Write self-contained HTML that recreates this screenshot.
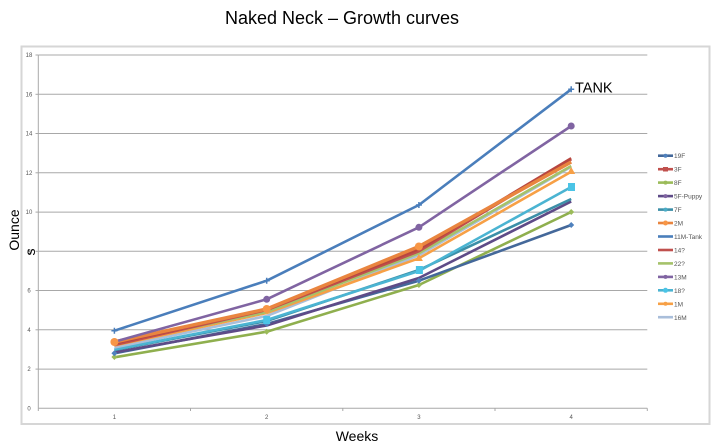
<!DOCTYPE html>
<html><head><meta charset="utf-8"><style>
html,body{margin:0;padding:0;background:#fff;}
svg{display:block;}
</style></head><body>
<svg width="711" height="446" viewBox="0 0 711 446" xmlns="http://www.w3.org/2000/svg" font-family="Liberation Sans, Arial, sans-serif">
<rect x="0" y="0" width="711" height="446" fill="#fff"/>
<text x="342" y="24" font-size="18" text-anchor="middle" fill="#000">Naked Neck – Growth curves</text>
<rect x="21.5" y="46.5" width="688" height="377.5" fill="#fff" stroke="#d6d6d6" stroke-width="2"/>
<!-- gridlines -->
<g stroke="#a8a8a8" stroke-width="1">
<line x1="38.3" y1="55" x2="647.3" y2="55"/>
<line x1="38.3" y1="94.3" x2="647.3" y2="94.3"/>
<line x1="38.3" y1="133.5" x2="647.3" y2="133.5"/>
<line x1="38.3" y1="172.8" x2="647.3" y2="172.8"/>
<line x1="38.3" y1="212.1" x2="647.3" y2="212.1"/>
<line x1="38.3" y1="251.3" x2="647.3" y2="251.3"/>
<line x1="38.3" y1="290.5" x2="647.3" y2="290.5"/>
<line x1="38.3" y1="329.8" x2="647.3" y2="329.8"/>
<line x1="38.3" y1="369.1" x2="647.3" y2="369.1"/>
<line x1="38.3" y1="408.3" x2="647.3" y2="408.3"/>
<line x1="38.3" y1="55" x2="38.3" y2="408.3"/>
<line x1="38.3" y1="408.3" x2="38.3" y2="411"/>
<line x1="190.5" y1="408.3" x2="190.5" y2="411"/>
<line x1="342.8" y1="408.3" x2="342.8" y2="411"/>
<line x1="495" y1="408.3" x2="495" y2="411"/>
<line x1="647.3" y1="408.3" x2="647.3" y2="411"/>
<line x1="35.5" y1="55" x2="38.3" y2="55"/>
<line x1="35.5" y1="94.3" x2="38.3" y2="94.3"/>
<line x1="35.5" y1="133.5" x2="38.3" y2="133.5"/>
<line x1="35.5" y1="172.8" x2="38.3" y2="172.8"/>
<line x1="35.5" y1="212.1" x2="38.3" y2="212.1"/>
<line x1="35.5" y1="251.3" x2="38.3" y2="251.3"/>
<line x1="35.5" y1="290.5" x2="38.3" y2="290.5"/>
<line x1="35.5" y1="329.8" x2="38.3" y2="329.8"/>
<line x1="35.5" y1="369.1" x2="38.3" y2="369.1"/>
</g>
<g font-size="6" fill="#555" text-anchor="middle">
<text x="29" y="57">18</text>
<text x="29" y="96.3">16</text>
<text x="29" y="135.5">14</text>
<text x="29" y="174.8">12</text>
<text x="29" y="214.1">10</text>
<text x="29" y="253.3">8</text>
<text x="29" y="292.5">6</text>
<text x="29" y="331.8">4</text>
<text x="29" y="371.1">2</text>
<text x="29" y="410.3">0</text>
<text x="114.4" y="419">1</text>
<text x="266.7" y="419">2</text>
<text x="418.9" y="419">3</text>
<text x="571.2" y="419">4</text>
</g>
<text transform="translate(19,230) rotate(-90)" font-size="14" text-anchor="middle" fill="#000">Ounce</text>
<text transform="translate(35,252) rotate(-90)" font-size="14" text-anchor="middle" fill="#000">s</text>
<text x="357" y="441" font-size="14" text-anchor="middle" fill="#000">Weeks</text>
<!-- series: x = 114.4, 266.7, 418.9, 571.2 ; y = 408.3 - 19.63v -->
<g fill="none" stroke-width="2.6" stroke-linejoin="round">
<!-- 8F green -->
<polyline stroke="#8FAF4E" points="114.4,357.3 266.7,331.7 418.9,285 571.2,212"/>
<!-- 19F blue -->
<polyline stroke="#44689A" points="114.4,353.3 266.7,324 418.9,280.7 571.2,225"/>
<!-- 5F-Puppy purple -->
<polyline stroke="#5E4B87" points="114.4,352.3 266.7,325.5 418.9,278 571.2,201.5"/>
<!-- 7F aqua -->
<polyline stroke="#3C8FA8" points="114.4,350 266.7,321 418.9,270 571.2,199"/>
<!-- 18? aqua -->
<polyline stroke="#4BB4D2" points="114.4,349.5 266.7,320 418.9,271 571.2,187"/>
<!-- 16M lightblue -->
<polyline stroke="#A9BEDA" points="114.4,347.5 266.7,316 418.9,255.2 571.2,166.8"/>
<!-- 1M orange -->
<polyline stroke="#F7A046" points="114.4,345.5 266.7,313 418.9,258.3 571.2,171.7"/>
<!-- 22? green -->
<polyline stroke="#A5C26A" points="114.4,343.5 266.7,312 418.9,253.2 571.2,166"/>
<!-- 14? red -->
<polyline stroke="#C0504D" points="114.4,345 266.7,310 418.9,251.3 571.2,159.5"/>
<!-- 3F red -->
<polyline stroke="#B8463F" points="114.4,343.5 266.7,309 418.9,249.3 571.2,158.3"/>
<!-- 2M orange -->
<polyline stroke="#E9853F" stroke-width="3.5" points="114.4,342 266.7,309 418.9,246.5 571.2,162"/>
<!-- 13M purple -->
<polyline stroke="#8064A2" points="114.4,341.7 266.7,299.3 418.9,227.3 571.2,126"/>
<!-- 11M-Tank blue -->
<polyline stroke="#4A7EBB" points="114.4,330.7 266.7,280.7 418.9,205 571.2,89.3"/>
</g>
<!-- markers -->
<g>
<path d="M114.4,354 l3,3 l-3,3 l-3,-3z M266.7,328.7 l3,3 l-3,3 l-3,-3z M418.9,282 l3,3 l-3,3 l-3,-3z M571.2,209 l3,3 l-3,3 l-3,-3z" fill="#9BBB59"/>
<path d="M114.4,350.3 l3,3 l-3,3 l-3,-3z M266.7,321 l3,3 l-3,3 l-3,-3z M418.9,277.7 l3,3 l-3,3 l-3,-3z M571.2,222 l3,3 l-3,3 l-3,-3z" fill="#4F81BD"/>
<rect x="415.9" y="266" width="7" height="8" fill="#4BC4E6"/>
<rect x="568" y="183" width="7" height="8" fill="#4BC4E6"/>
<rect x="263.2" y="316" width="7" height="8" fill="#4BC4E6"/>
<circle cx="266.7" cy="299.3" r="3.5" fill="#8064A2"/>
<circle cx="418.9" cy="227.3" r="3.5" fill="#8064A2"/>
<circle cx="571.2" cy="126" r="3.5" fill="#8064A2"/>
<circle cx="114.4" cy="341.7" r="3.5" fill="#8064A2"/>
<circle cx="266.7" cy="309" r="4" fill="#F79646"/>
<circle cx="418.9" cy="246.5" r="4" fill="#F79646"/>
<circle cx="114.4" cy="342" r="4" fill="#F79646"/>
<path d="M418.9,254 l4,7 l-8,0z M571.2,167 l4,7 l-8,0z" fill="#F7A046"/>
<path d="M571.2,86.3 v6 M568.2,89.3 h6 M266.7,277.7 v6 M263.7,280.7 h6 M418.9,202 v6 M415.9,205 h6 M114.4,327.7 v6 M111.4,330.7 h6" stroke="#4A7EBB" stroke-width="1.5"/>
</g>
<text x="575" y="92.3" font-size="14.5" fill="#000">TANK</text>
<!-- legend -->
<g stroke-width="2.6">
<line x1="658" y1="155.7" x2="673" y2="155.7" stroke="#44689A"/>
<line x1="658" y1="169.2" x2="673" y2="169.2" stroke="#C0504D"/>
<line x1="658" y1="182.6" x2="673" y2="182.6" stroke="#9BBB59"/>
<line x1="658" y1="196.1" x2="673" y2="196.1" stroke="#5E4B87"/>
<line x1="658" y1="209.6" x2="673" y2="209.6" stroke="#3C8FA8"/>
<line x1="658" y1="223" x2="673" y2="223" stroke="#E9853F"/>
<line x1="658" y1="236.5" x2="673" y2="236.5" stroke="#4A7EBB"/>
<line x1="658" y1="250" x2="673" y2="250" stroke="#C0504D"/>
<line x1="658" y1="263.4" x2="673" y2="263.4" stroke="#A5C26A"/>
<line x1="658" y1="276.9" x2="673" y2="276.9" stroke="#8064A2"/>
<line x1="658" y1="290.3" x2="673" y2="290.3" stroke="#4BB4D2"/>
<line x1="658" y1="303.8" x2="673" y2="303.8" stroke="#F7A046"/>
<line x1="658" y1="317.2" x2="673" y2="317.2" stroke="#A9BEDA"/>
</g>
<g>
<circle cx="665.5" cy="155.7" r="2" fill="#4F81BD"/>
<rect x="663" y="167" width="5" height="4.5" fill="#C0504D"/>
<circle cx="665.5" cy="182.6" r="2" fill="#9BBB59"/>
<circle cx="665.5" cy="196.1" r="2" fill="#8064A2"/>
<circle cx="665.5" cy="209.6" r="2" fill="#4BACC6"/>
<circle cx="665.5" cy="223" r="2.5" fill="#F79646"/>
<circle cx="665.5" cy="276.9" r="2" fill="#8064A2"/>
<circle cx="665.5" cy="290.3" r="2.5" fill="#4BC4E6"/>
<circle cx="665.5" cy="303.8" r="2" fill="#F7A046"/>
</g>
<g font-size="6.5" fill="#555">
<text x="674" y="158">19F</text>
<text x="674" y="171.5">3F</text>
<text x="674" y="185">8F</text>
<text x="674" y="198.5">5F-Puppy</text>
<text x="674" y="212">7F</text>
<text x="674" y="225.5">2M</text>
<text x="674" y="239">11M-Tank</text>
<text x="674" y="252.5">14?</text>
<text x="674" y="266">22?</text>
<text x="674" y="279.5">13M</text>
<text x="674" y="293">18?</text>
<text x="674" y="306.5">1M</text>
<text x="674" y="320">16M</text>
</g>
</svg>
</body></html>
